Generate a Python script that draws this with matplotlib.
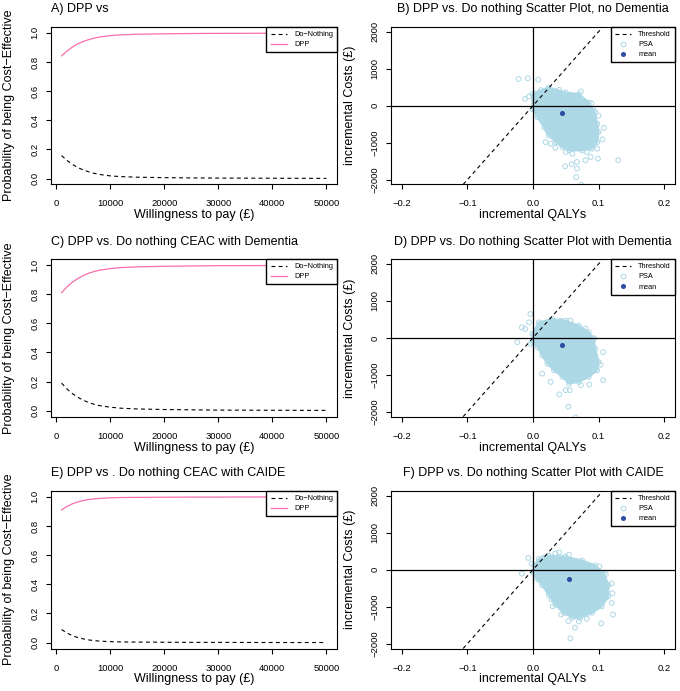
import matplotlib
matplotlib.use("Agg")
import matplotlib.pyplot as plt
from matplotlib.lines import Line2D

plt.rcParams['font.family'] = ['Liberation Sans', 'DejaVu Sans']
plt.rcParams['axes.unicode_minus'] = True

# --- CEAC data ---
wtp = [1000, 2000, 3000, 4000, 5000, 6000, 7000, 8000, 10000, 12000,
       15000, 20000, 25000, 30000, 40000, 50000]

dn_A = [0.158, 0.125, 0.098, 0.076, 0.060, 0.047, 0.037, 0.029, 0.019, 0.014,
        0.010, 0.007, 0.005, 0.004, 0.003, 0.002]
dpp_A = [0.842, 0.875, 0.902, 0.924, 0.940, 0.953, 0.963, 0.971, 0.981, 0.986,
         0.990, 0.993, 0.995, 0.996, 0.997, 0.998]

dn_C = [0.190, 0.150, 0.118, 0.093, 0.073, 0.057, 0.045, 0.036, 0.025, 0.018,
        0.013, 0.009, 0.007, 0.005, 0.004, 0.003]
dpp_C = [0.810, 0.850, 0.882, 0.907, 0.927, 0.943, 0.955, 0.964, 0.975, 0.982,
         0.987, 0.991, 0.993, 0.995, 0.996, 0.997]

dn_E = [0.090, 0.066, 0.048, 0.035, 0.026, 0.019, 0.014, 0.011, 0.007, 0.005,
        0.004, 0.003, 0.002, 0.002, 0.001, 0.001]
dpp_E = [0.910, 0.934, 0.952, 0.965, 0.974, 0.981, 0.986, 0.989, 0.993, 0.995,
         0.996, 0.997, 0.998, 0.998, 0.999, 0.999]

# --- scatter data: outline of the dense PSA cloud + stray PSA points + mean ---
B_core_q = [-0.001, 0.012, 0.024, 0.050, 0.070, 0.085, 0.093, 0.098, 0.100, 0.098,
            0.090, 0.075, 0.055, 0.045, 0.035, 0.024, 0.017, 0.007, -0.001]
B_core_c = [313, 420, 492, 358, 313, 89, -134, -492, -715, -983,
            -1162, -1207, -1207, -1118, -983, -805, -581, -313, -89]
B_psa_q = [-0.022, -0.008, 0.008, -0.012, -0.006, 0.073, 0.089, 0.095, 0.100, 0.108,
           0.106, 0.098, 0.130, 0.099, 0.088, 0.080, 0.067, 0.059, 0.049, 0.067,
           0.066, 0.074, 0.022, 0.019, 0.027, 0.034, 0.050, 0.060, 0.004, 0.040,
           0.015, 0.082, 0.093]
B_psa_c = [724, 742, 706, 188, 250, 384, 63, -179, -268, -599,
           -912, -1162, -1474, -1430, -1386, -1475, -1520, -1582, -1636, -1699,
           -1930, -2140, -670, -983, -1028, -1135, -1252, -1300, 330, 430,
           150, -1250, -1000]
B_mean = (0.045, -205)

D_core_q = [-0.001, 0.009, 0.029, 0.050, 0.070, 0.085, 0.093, 0.095, 0.100, 0.098,
            0.085, 0.070, 0.055, 0.045, 0.032, 0.022, 0.014, 0.007, -0.001]
D_core_c = [107, 420, 510, 465, 331, 152, -27, -295, -653, -876,
            -1055, -1189, -1234, -1055, -876, -697, -474, -250, -116]
D_psa_q = [-0.004, -0.006, -0.017, -0.012, -0.024, -0.004, 0.014, 0.027, 0.040, 0.054,
           0.065, 0.107, 0.107, 0.103, 0.050, 0.056, 0.086, 0.073, 0.057, 0.042,
           0.093, 0.080]
D_psa_c = [644, 420, 286, 241, -116, -161, -966, -1189, -1529, -1860,
           -2150, -1144, -384, -724, -1413, -1413, -1261, -1279, 465, 465,
           -9, 250]
D_mean = (0.044, -188)

F_core_q = [0.002, 0.009, 0.024, 0.049, 0.075, 0.095, 0.108, 0.115, 0.115, 0.105,
            0.090, 0.072, 0.060, 0.047, 0.034, 0.024, 0.014, 0.004, -0.001]
F_core_c = [115, 292, 380, 354, 248, 115, -106, -415, -725, -990,
            -1167, -1300, -1300, -1167, -946, -681, -415, -194, -62]
F_psa_q = [-0.007, -0.002, -0.017, 0.008, 0.028, 0.030, 0.043, 0.054, 0.064, 0.057,
           0.104, 0.122, 0.120, 0.121, 0.120, 0.111, 0.101, 0.055, 0.034, 0.082,
           0.070, 0.016, 0.040]
F_psa_c = [318, 159, -106, -265, -796, -990, -1211, -1388, -1565, -1856,
           -1450, -1211, -902, -636, -371, -124, 88, 407, 442, -1326,
           -1400, 330, 470]
F_mean = (0.0555, -248)

wtp_threshold = 20000

titles = ["A) DPP vs",
          "B) DPP vs. Do nothing Scatter Plot, no Dementia",
          "C) DPP vs. Do nothing CEAC with Dementia",
          "D) DPP vs. Do nothing Scatter Plot with Dementia",
          "E) DPP vs . Do nothing CEAC with CAIDE",
          "F) DPP vs. Do nothing Scatter Plot with CAIDE"]

PSA_COL = '#add8e6'
MEAN_COL = '#2c4ea3'
PINK = '#f66eae'

fig = plt.figure(figsize=(6.8, 6.91), dpi=100)
row_bottoms = [0.733, 0.397, 0.0615]
H = 0.228


def style_axes(ax):
    for s in ax.spines.values():
        s.set_linewidth(0.8)
    ax.tick_params(length=3.8, width=0.8, labelsize=6.8)
    ax.tick_params(axis='x', pad=7)
    ax.tick_params(axis='y', pad=4.5, labelrotation=90)
    for lab in ax.get_yticklabels():
        lab.set_va('center')


def ceac(ax, title, dn, dpp):
    ax.plot(wtp, dn, color='black', lw=0.8, ls=(0, (3.5, 3)), label='Do\u2212Nothing')
    ax.plot(wtp, dpp, color=PINK, lw=0.9, label='DPP')
    ax.set_xlim(-960, 51960)
    ax.set_ylim(-0.04, 1.04)
    ax.set_xticks([0, 10000, 20000, 30000, 40000, 50000])
    ax.set_xticklabels(['0', '10000', '20000', '30000', '40000', '50000'])
    ax.set_yticks([0, 0.2, 0.4, 0.6, 0.8, 1.0])
    ax.set_yticklabels(['0.0', '0.2', '0.4', '0.6', '0.8', '1.0'])
    style_axes(ax)
    ax.set_xlabel('Willingness to pay (£)', fontsize=9)
    ax.set_ylabel('Probability of being Cost\u2212Effective', fontsize=9)
    ax.xaxis.set_label_coords(0.5, -0.158)
    ax.yaxis.set_label_coords(-0.125, 0.5)
    ax.set_title(title, loc='left', fontsize=9, pad=10.5)
    leg = ax.legend(loc='upper right', fontsize=5.3, frameon=True, fancybox=False,
                    edgecolor='black', framealpha=1, borderaxespad=0,
                    handlelength=2.2, handletextpad=1.0, borderpad=0.55,
                    labelspacing=0.4)
    leg.get_frame().set_linewidth(1.0)


def scatter(ax, title, core_q, core_c, psa_q, psa_c, mean):
    ax.fill(core_q, core_c, color=PSA_COL, lw=1.5, ec=PSA_COL, zorder=1)
    ax.scatter(core_q, core_c, s=12, facecolors='none', edgecolors=PSA_COL,
               linewidths=0.7, zorder=2)
    ax.scatter(psa_q, psa_c, s=12, facecolors='none', edgecolors=PSA_COL,
               linewidths=0.7, zorder=2)
    ax.axhline(0, color='black', lw=0.9, zorder=3)
    ax.axvline(0, color='black', lw=0.9, zorder=3)
    ax.axline((0, 0), slope=wtp_threshold, color='black', lw=0.8,
              ls=(0, (3.5, 3)), zorder=3)
    ax.scatter([mean[0]], [mean[1]], s=7, color=MEAN_COL, zorder=4)
    ax.set_xlim(-0.2165, 0.2165)
    ax.set_ylim(-2130, 2130)
    ax.set_xticks([-0.2, -0.1, 0.0, 0.1, 0.2])
    ax.set_xticklabels(['\u22120.2', '\u22120.1', '0.0', '0.1', '0.2'])
    ax.set_yticks([-2000, -1000, 0, 1000, 2000])
    ax.set_yticklabels(['\u22122000', '\u22121000', '0', '1000', '2000'])
    style_axes(ax)
    ax.set_xlabel('incremental QALYs', fontsize=9)
    ax.set_ylabel('incremental Costs (£)', fontsize=9)
    ax.xaxis.set_label_coords(0.5, -0.158)
    ax.yaxis.set_label_coords(-0.125, 0.5)
    ax.set_title(title, loc='center', fontsize=9, pad=10.5)
    handles = [Line2D([], [], color='black', lw=0.8, ls=(0, (3.5, 3))),
               Line2D([], [], ls='none', marker='o', mfc='none', mec=PSA_COL,
                      ms=3.4, mew=0.7),
               Line2D([], [], ls='none', marker='o', color=MEAN_COL, ms=2.6)]
    leg = ax.legend(handles, ['Threshold', 'PSA', 'mean'], loc='upper right',
                    fontsize=5.3, frameon=True, fancybox=False, edgecolor='black',
                    framealpha=1, borderaxespad=0, handlelength=2.2,
                    handletextpad=1.0, borderpad=0.55, labelspacing=0.4)
    leg.get_frame().set_linewidth(1.0)
    leg.set_zorder(5)


ceac_sets = [(dn_A, dpp_A), (dn_C, dpp_C), (dn_E, dpp_E)]
scat_sets = [(B_core_q, B_core_c, B_psa_q, B_psa_c, B_mean),
             (D_core_q, D_core_c, D_psa_q, D_psa_c, D_mean),
             (F_core_q, F_core_c, F_psa_q, F_psa_c, F_mean)]

for i, b in enumerate(row_bottoms):
    axl = fig.add_axes([0.075, b, 0.4206, H])
    ceac(axl, titles[2 * i], *ceac_sets[i])
    axr = fig.add_axes([0.575, b, 0.4176, H])
    scatter(axr, titles[2 * i + 1], *scat_sets[i])

fig.savefig('out.png', dpi=100)
